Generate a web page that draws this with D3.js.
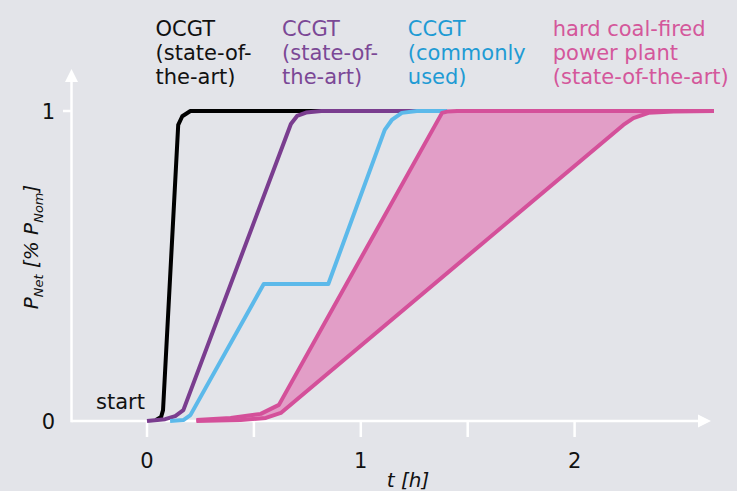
<!DOCTYPE html>
<html><head><meta charset="utf-8">
<script src="https://cdn.jsdelivr.net/npm/d3@7/dist/d3.min.js"></script>
<style>
html,body{margin:0;padding:0;background:#e3e4e9;}
svg{display:block;}
text{font-family:"DejaVu Sans",sans-serif;}
</style></head>
<body>
<script>
// ---- data (t in hours, P normalised) ----
const xTicks = [0, 0.5, 1, 1.5, 2];
const xTickLabels = ["0", "", "1", "", "2"];
const yTicks = [0, 1];
const yTickLabels = ["0", "1"];

const ocgt = [[0.042,0.003],[0.066,0.013],[0.075,0.035],[0.146,0.955],[0.165,0.983],[0.203,1.0],[0.815,1.0]];
const ccgtSota = [[0,0],[0.085,0.006],[0.132,0.016],[0.17,0.035],[0.673,0.958],[0.702,0.984],[0.744,0.995],[0.815,1],[1.38,1]];
const ccgtCommon = [[0.108,0],[0.17,0.003],[0.203,0.019],[0.546,0.442],[0.848,0.442],[1.112,0.939],[1.145,0.971],[1.192,0.994],[1.262,1],[1.404,1]];
const coalFast = [[0.231,0.003],[0.391,0.01],[0.532,0.023],[0.617,0.052],[1.38,0.994],[1.404,0.998],[1.451,1],[2.652,1]];
const coalSlow = [[0.231,0],[0.438,0.003],[0.556,0.01],[0.626,0.026],[2.228,0.955],[2.275,0.977],[2.346,0.994],[2.463,0.998],[2.652,1]];

const labels = [
  {lines:["OCGT","(state-of-","the-art)"], t:0.04, color:"#111111"},
  {lines:["CCGT","(state-of-","the-art)"], t:0.632, color:"#7b4896"},
  {lines:["CCGT","(commonly","used)"], t:1.22, color:"#1f9bd4"},
  {lines:["hard coal-fired","power plant","(state-of-the-art)"], t:1.898, color:"#d4579b"}
];

// ---- layout ----
const W = 737, H = 491;
const svg = d3.select("body").append("svg").attr("width", W).attr("height", H);
const x = d3.scaleLinear().domain([0, 2]).range([147, 574.6]);
const y = d3.scaleLinear().domain([0, 1]).range([421, 111]);
const axisColor = "#ffffff";

// axes
const x0 = 71.5;
svg.append("line").attr("x1", x0).attr("x2", 700).attr("y1", y(0)).attr("y2", y(0))
  .attr("stroke", axisColor).attr("stroke-width", 2.5);
svg.append("path").attr("d", `M711,${y(0)} L698,${y(0)-6.5} L698,${y(0)+6.5} Z`).attr("fill", axisColor);
svg.append("line").attr("x1", x0).attr("x2", x0).attr("y1", y(0)+1.2).attr("y2", 81)
  .attr("stroke", axisColor).attr("stroke-width", 2.5);
svg.append("path").attr("d", `M${x0},69 L${x0-6.5},82 L${x0+6.5},82 Z`).attr("fill", axisColor);

const xg = svg.append("g");
xTicks.forEach((t, i) => {
  xg.append("line").attr("x1", x(t)).attr("x2", x(t)).attr("y1", y(0)).attr("y2", 437)
    .attr("stroke", axisColor).attr("stroke-width", 2.5);
  if (xTickLabels[i]) xg.append("text").attr("x", x(t)).attr("y", 468).attr("text-anchor", "middle")
    .attr("font-size", 21).attr("fill", "#111").text(xTickLabels[i]);
});
yTicks.forEach((v, i) => {
  if (v > 0) svg.append("line").attr("x1", 63).attr("x2", x0).attr("y1", y(v)).attr("y2", y(v))
    .attr("stroke", axisColor).attr("stroke-width", 2.5);
  svg.append("text").attr("x", 55).attr("y", y(v) + 7.5).attr("text-anchor", "end")
    .attr("font-size", 21).attr("fill", "#111").text(yTickLabels[i]);
});

// axis titles
const xt = svg.append("text").attr("x", 408).attr("y", 487).attr("text-anchor", "middle")
  .attr("font-size", 20).attr("font-style", "italic").attr("fill", "#111").text("t [h]");
const yt = svg.append("text").attr("transform", "translate(38,247) rotate(-90)")
  .attr("text-anchor", "middle").attr("font-size", 20).attr("font-style", "italic").attr("fill", "#111");
yt.append("tspan").text("P");
yt.append("tspan").attr("font-size", 13).attr("dy", 5).text("Net");
yt.append("tspan").attr("dy", -5).text(" [% P");
yt.append("tspan").attr("font-size", 13).attr("dy", 5).text("Nom");
yt.append("tspan").attr("dy", -5).text("]");

// curves
const line = d3.line().x(d => x(d[0])).y(d => y(d[1]));
svg.append("path").attr("d", line(coalFast.concat(coalSlow.slice().reverse())) + "Z")
  .attr("fill", "#e29ec7").attr("stroke", "none");

const series = [
  {d: ocgt, c: "#000000"},
  {d: ccgtSota, c: "#7a3d8f"},
  {d: ccgtCommon, c: "#5cb9ea"},
  {d: coalFast, c: "#d4509a"},
  {d: coalSlow, c: "#d4509a"}
];
series.forEach(s => {
  svg.append("path").attr("d", line(s.d)).attr("fill", "none").attr("stroke", s.c)
    .attr("stroke-width", 4).attr("stroke-linejoin", "round").attr("stroke-linecap", "butt");
});

// start label
svg.append("text").attr("x", 145).attr("y", 409).attr("text-anchor", "end")
  .attr("font-size", 21).attr("fill", "#111").text("start");

// series labels
labels.forEach(l => {
  const tx = svg.append("text").attr("font-size", 21).attr("fill", l.color);
  l.lines.forEach((s, i) => {
    tx.append("tspan").attr("x", x(l.t)).attr("y", 36 + i * 24).text(s);
  });
});
</script>
</body></html>
